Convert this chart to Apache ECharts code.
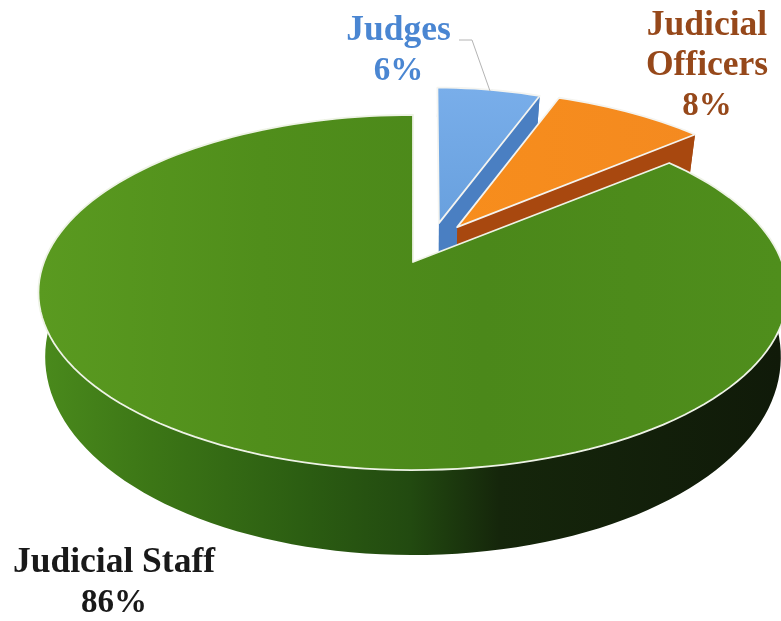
<!DOCTYPE html>
<html>
<head>
<meta charset="utf-8">
<style>html,body{margin:0;padding:0;background:#fff}#c{width:781px;height:621px}</style>
<script src="https://cdn.jsdelivr.net/npm/echarts@6/dist/echarts.min.js"></script>
</head>
<body>
<div id="c"></div>
<script>
var categories = ['Judges', 'Judicial Officers', 'Judicial Staff'];
var shares = [6, 8, 86];
var labelLines = [['Judges', '6%'], ['Judicial', 'Officers', '8%'], ['Judicial Staff', '86%']];

var chart = echarts.init(document.getElementById('c'), null, {renderer: 'canvas'});
var G = echarts.graphic;
var APEX_X = 413, RX = 369, A = 127.3, B = 262, C = -0.1718;
var explode = [[0.08, -0.225], [0.105, -0.21], [0, 0]];
var apexShift = [[0.073, -0.235], [0.124, -0.21], [0, 0]];
var widthScale = [0.9, 1, 1];
var faceFill = [
  new G.LinearGradient(0, 0, 0, 1, [{offset: 0, color: '#79aeea'}, {offset: 1, color: '#68a0de'}]),
  new G.LinearGradient(0, 0, 1, 0, [{offset: 0, color: '#f78d1c'}, {offset: 1, color: '#f48a20'}]),
  new G.LinearGradient(38, 0, 781, 0, [
    {offset: 0, color: '#5a9a20'}, {offset: 0.3, color: '#508e1b'},
    {offset: 0.6, color: '#4b881a'}, {offset: 1, color: '#4f8e1c'}], true)
];
var wallFill = [
  '#4a7fc2', '#a8480f',
  new G.LinearGradient(40, 0, 781, 0, [
    {offset: 0, color: '#4a8a1c'}, {offset: 0.15, color: '#3c7616'},
    {offset: 0.35, color: '#2c5e12'}, {offset: 0.5, color: '#224a10'},
    {offset: 0.62, color: '#15260b'}, {offset: 1, color: '#101a09'}], true)
];
var labelFill = ['#4a86d2', '#96481a', '#191919'];
var labelX = [398.5, 707, 114];
var labelY = [[31, 71], [26, 66, 106], [563, 603]];
var nameFont = 35.5, percentFont = 33;

function project(u, v, drop) {
  var w = 1 + C * v, t = drop ? 60 + 25 * v : 0, k = drop ? 0.982 : 1;
  return [APEX_X + k * RX * u / w, (A * v + B) / w + t];
}
function arc(i, a0, a1, off, drop) {
  var pts = [], n = Math.max(2, Math.ceil(Math.abs(a1 - a0) / 2));
  for (var s = 0; s <= n; s++) {
    var a = (a0 + (a1 - a0) * s / n) * Math.PI / 180;
    pts.push(project(widthScale[i] * Math.sin(a) + off[0], -Math.cos(a) + off[1], drop));
  }
  return pts;
}

function renderItem(params, api) {
  var i = params.dataIndex, before = 0;
  for (var k = 0; k < i; k++) before += shares[k];
  var a0 = before * 3.6, a1 = a0 + api.value(1) * 3.6, off = explode[i], as = apexShift[i];
  var apexTop = project(as[0], as[1], false), apexBot = project(as[0], as[1], true);
  var top = arc(i, a0, a1, off, false), bot = arc(i, a0, a1, off, true);
  var kids = [];
  // outer wall
  kids.push({type: 'polygon', shape: {points: top.concat(bot.slice().reverse())}, style: {fill: wallFill[i]}});
  // cut side facing the viewer for the two exploded slices
  if (i < 2) {
    kids.push({type: 'polygon', shape: {points: [apexTop, top[top.length - 1], bot[bot.length - 1], apexBot]}, style: {fill: wallFill[i]}});
  }
  // top face
  kids.push({type: 'polygon', shape: {points: [apexTop].concat(top)},
    style: {fill: faceFill[i], stroke: i === 2 ? '#eef3e6' : '#f4f4f0', lineWidth: 1.8, lineJoin: 'round'}});
  // leader line of the Judges label
  if (i === 0) {
    kids.push({type: 'polyline', shape: {points: [[459, 40], [472, 40], [490, 91]]},
      style: {stroke: '#b4b4b4', lineWidth: 1, fill: 'none'}});
  }
  labelLines[i].forEach(function (line, j) {
    var isPercent = j === labelLines[i].length - 1;
    kids.push({type: 'text', style: {
      text: line, x: labelX[i], y: labelY[i][j], fill: labelFill[i],
      font: 'bold ' + (isPercent ? percentFont : nameFont) + 'px "Liberation Serif", serif',
      textAlign: 'center', textVerticalAlign: 'middle'
    }});
  });
  return {type: 'group', children: kids};
}

chart.setOption({
  animation: false,
  backgroundColor: '#fff',
  series: [{
    type: 'custom',
    coordinateSystem: 'none',
    renderItem: renderItem,
    clip: false,
    data: categories.map(function (c, i) { return {name: c, value: [i, shares[i]]}; })
  }]
});
</script>
</body>
</html>
